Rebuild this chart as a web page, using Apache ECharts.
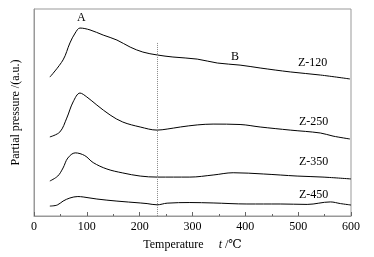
<!DOCTYPE html>
<html>
<head>
    <meta charset="utf-8">
    <title>TPD</title>
    <script src="https://cdn.jsdelivr.net/npm/echarts@6/dist/echarts.min.js"></script>
    <style>
        html, body { margin: 0; padding: 0; background: #fff; }
        #main { width: 374px; height: 257px; }
    </style>
</head>
<body>
<div id="main"></div>
<script type="text/javascript">
    // temperature (°C) and partial pressure (a.u.)
    var tZ120 = [30, 55, 68, 78, 87, 106, 131, 157, 182, 206, 233, 263, 309, 347, 390, 428, 485, 542, 598];
    var pZ120 = [67.1, 75.4, 83.6, 88.4, 90.8, 89.9, 87.4, 85.0, 81.6, 79.2, 77.8, 76.8, 75.8, 73.9, 72.9, 71.5, 69.6, 68.1, 66.2];

    var tZ250 = [30, 49, 62, 74, 87, 100, 119, 144, 168, 201, 233, 252, 277, 309, 339, 390, 428, 485, 542, 566, 598];
    var pZ250 = [38.2, 40.6, 47.3, 55.1, 59.4, 57.5, 53.6, 48.8, 45.4, 43.0, 41.5, 42.0, 43.0, 44.0, 44.4, 44.2, 43.0, 41.5, 40.1, 38.6, 37.2];

    var tZ350 = [30, 45, 55, 64, 78, 96, 112, 138, 168, 201, 233, 295, 339, 377, 434, 498, 547, 600];
    var pZ350 = [16.9, 19.3, 23.2, 28.0, 30.5, 29.2, 25.8, 22.7, 20.8, 19.3, 18.8, 18.8, 19.8, 20.9, 20.3, 19.3, 18.8, 17.9];

    var tZ450 = [30, 44, 55, 68, 83, 93, 119, 157, 201, 214, 233, 252, 295, 339, 403, 466, 517, 561, 580, 600];
    var pZ450 = [4.8, 5.3, 7.2, 8.7, 9.4, 9.2, 8.2, 7.2, 6.3, 6.0, 5.4, 6.2, 6.5, 6.3, 5.8, 5.8, 5.6, 6.8, 6.0, 5.3];

    var seriesNames = ['Z-120', 'Z-250', 'Z-350', 'Z-450'];
    var dividerT = 233;

    function pairs(t, p) {
        var out = [];
        for (var i = 0; i < t.length; i++) {
            out.push([t[i], p[i]]);
        }
        return out;
    }

    var font = '"Liberation Serif", "DejaVu Serif", serif';
    var myChart = echarts.init(document.getElementById('main'));

    var lineData = [pairs(tZ120, pZ120), pairs(tZ250, pZ250), pairs(tZ350, pZ350), pairs(tZ450, pZ450)];
    var series = lineData.map(function (d, i) {
        return {
            name: seriesNames[i],
            type: 'line',
            data: d,
            smooth: 0.35,
            symbol: 'none',
            lineStyle: { color: '#000', width: 1 },
            silent: true
        };
    });
    // dotted divider line
    series[0].markLine = {
        silent: true,
        symbol: 'none',
        label: { show: false },
        lineStyle: { color: '#888', type: 'dotted', width: 1 },
        data: [[{ coord: [dividerT, 83.6] }, { coord: [dividerT, 0] }]]
    };

    var labelStyle = { fontFamily: font, fontSize: 12, fill: '#000' };
    function txt(x, y, s) {
        return { type: 'text', left: x, top: y, style: Object.assign({ text: s }, labelStyle) };
    }

    var option = {
        animation: false,
        grid: { left: 34, right: 23, top: 9, bottom: 41, show: true, borderColor: '#999', borderWidth: 1 },
        xAxis: {
            type: 'value',
            min: 0,
            max: 600,
            interval: 100,
            name: 'Temperature     {i|t} /℃',
            nameLocation: 'middle',
            nameGap: 23,
            nameTextStyle: {
                fontFamily: font, fontSize: 12, color: '#000',
                rich: { i: { fontStyle: 'italic', fontFamily: font, fontSize: 12, color: '#000' } }
            },
            axisLine: { lineStyle: { color: '#999' } },
            axisTick: { inside: true, length: 4, lineStyle: { color: '#666' } },
            minorTick: { show: true, splitNumber: 2, length: 2, lineStyle: { color: '#666' } },
            axisLabel: { fontFamily: font, fontSize: 12, color: '#000', margin: 5 },
            splitLine: { show: false }
        },
        yAxis: {
            type: 'value',
            min: 0,
            max: 100,
            name: 'Partial pressure /(a.u.)',
            nameLocation: 'middle',
            nameGap: 12,
            nameTextStyle: { fontFamily: font, fontSize: 12, color: '#000' },
            axisLine: { show: true, lineStyle: { color: '#999' } },
            axisTick: { show: false },
            axisLabel: { show: false },
            splitLine: { show: false }
        },
        graphic: [
            txt(77, 12, 'A'),
            txt(231, 51, 'B'),
            txt(298, 57, 'Z-120'),
            txt(299, 116, 'Z-250'),
            txt(299, 156, 'Z-350'),
            txt(299, 189, 'Z-450')
        ],
        series: series
    };

    myChart.setOption(option);
</script>
</body>
</html>
